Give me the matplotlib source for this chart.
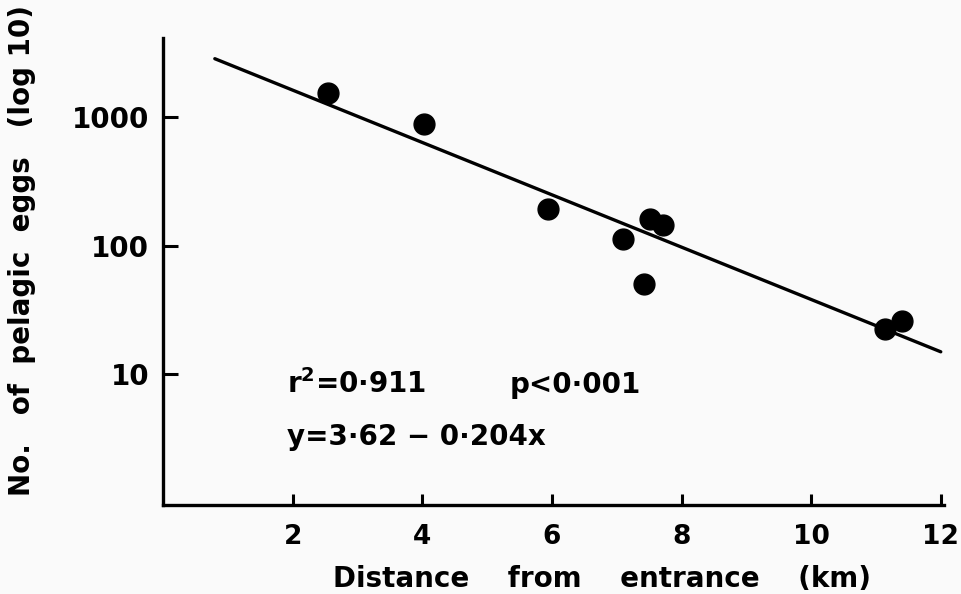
import numpy as np
import matplotlib.pyplot as plt

# data
distance = [2.54, 4.03, 5.94, 7.09, 7.42, 7.52, 7.71, 11.14, 11.40]
eggs = [1560, 880, 192, 113, 50, 162, 146, 22.4, 25.7]

# regression: log10(y) = 3.62 - 0.204x
intercept = 3.62
slope = -0.204
fit_range = [0.8, 12]

x_ticks = [2, 4, 6, 8, 10, 12]
y_ticks = [10, 100, 1000]
y_tick_labels = ['10', '100', '1000']

plt.rcParams['font.family'] = ['DejaVu Sans']
plt.rcParams['font.weight'] = 'bold'
plt.rcParams['mathtext.fontset'] = 'custom'
plt.rcParams['mathtext.rm'] = 'DejaVu Sans:bold'

bg = '#fafafa'
fig = plt.figure(figsize=(9.62, 5.94), dpi=100, facecolor=bg)
ax = fig.add_axes([0.1694, 0.1498, 0.8119, 0.7862], facecolor=bg)

fx = np.array(fit_range)
ax.plot(fx, 10 ** (intercept + slope * fx), color='black', lw=2.4, solid_capstyle='round')
ax.plot(distance, eggs, 'o', color='black', ms=15, mec='black')

ax.set_yscale('log')
ax.set_xlim(0, 12.05)
ax.set_ylim(0.95, 4150)

ax.set_xticks(x_ticks)
ax.set_xticklabels([str(t) for t in x_ticks])
ax.set_yticks(y_ticks)
ax.set_yticklabels(y_tick_labels)
ax.yaxis.set_minor_locator(plt.NullLocator())

ax.tick_params(axis='x', direction='in', length=8, width=2.2, pad=14, labelsize=19)
ax.tick_params(axis='y', direction='in', length=11, width=2.2, pad=10, labelsize=20)
for lab in ax.get_xticklabels() + ax.get_yticklabels():
    lab.set_fontweight('bold')

for s in ['top', 'right']:
    ax.spines[s].set_visible(False)
for s in ['left', 'bottom']:
    ax.spines[s].set_linewidth(2.4)

ax.text(0.159, 0.24, r'r$^{\mathrm{2}}$=0·911', transform=ax.transAxes,
        fontsize=20, fontweight='bold')
ax.text(0.444, 0.24, 'p<0·001', transform=ax.transAxes,
        fontsize=20, fontweight='bold')
ax.text(0.159, 0.128, 'y=3·62 − 0·204x', transform=ax.transAxes,
        fontsize=20, fontweight='bold')

fig.text(602 / 962, 1 - 579 / 594, 'Distance    from    entrance    (km)',
         ha='center', va='center', fontsize=20, fontweight='bold')
fig.text(22 / 962, 1 - 251 / 594, 'No.   of  pelagic  eggs   (log 10)',
         ha='center', va='center', rotation=90, fontsize=20, fontweight='bold')

fig.savefig('out.png', dpi=100, facecolor=bg)
